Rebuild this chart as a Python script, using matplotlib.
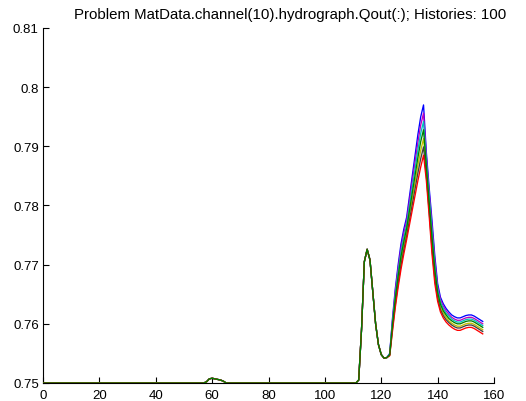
import numpy as np
import matplotlib
matplotlib.use('Agg')
import matplotlib.pyplot as plt

plt.rcParams['font.family'] = ['Liberation Sans', 'DejaVu Sans']

TITLE = 'Problem MatData.channel(10).hydrograph.Qout(:); Histories: 100'

# time steps
t_shared = np.arange(0, 123)
t_split = np.arange(123, 157)

# part of the hydrograph that is the same for every history (t = 0..122)
q_shared = ([0.75] * 58
            + [0.7502, 0.7507, 0.7508, 0.7507, 0.7506, 0.7505, 0.7503, 0.7500]
            + [0.75] * 46
            + [0.7505, 0.7590, 0.7705, 0.7726, 0.7708, 0.7655, 0.7600,
               0.7565, 0.7548, 0.7542, 0.7543])

# histories diverge after t = 123 (top of the band to bottom)
q_blue = [0.7550, 0.7610, 0.7660, 0.7700, 0.7735, 0.7760, 0.7780, 0.7815, 0.7850,
          0.7885, 0.7920, 0.7950, 0.7970, 0.7890, 0.7830, 0.7775, 0.7715, 0.7668,
          0.7645, 0.7634, 0.7626, 0.7620, 0.7615, 0.7612, 0.7610, 0.7610, 0.7612,
          0.7614, 0.7615, 0.7615, 0.7613, 0.7610, 0.7607, 0.7604]
q_magenta = [0.7549, 0.7606, 0.7655, 0.7694, 0.7728, 0.7753, 0.7774, 0.7807, 0.7840,
             0.7874, 0.7907, 0.7936, 0.7956, 0.7882, 0.7822, 0.7765, 0.7707, 0.7663,
             0.7641, 0.7630, 0.7622, 0.7616, 0.7611, 0.7608, 0.7606, 0.7606, 0.7608,
             0.7610, 0.7611, 0.7611, 0.7609, 0.7606, 0.7603, 0.7600]
q_cyan = [0.7549, 0.7603, 0.7649, 0.7687, 0.7721, 0.7746, 0.7767, 0.7799, 0.7831,
          0.7862, 0.7894, 0.7922, 0.7942, 0.7874, 0.7814, 0.7756, 0.7699, 0.7658,
          0.7637, 0.7626, 0.7618, 0.7613, 0.7608, 0.7605, 0.7603, 0.7603, 0.7605,
          0.7607, 0.7608, 0.7608, 0.7606, 0.7603, 0.7600, 0.7597]
q_yellow = [0.7547, 0.7595, 0.7639, 0.7675, 0.7706, 0.7732, 0.7755, 0.7783, 0.7811,
            0.7840, 0.7868, 0.7893, 0.7913, 0.7858, 0.7798, 0.7737, 0.7684, 0.7648,
            0.7628, 0.7618, 0.7611, 0.7605, 0.7601, 0.7598, 0.7596, 0.7596, 0.7598,
            0.7600, 0.7601, 0.7601, 0.7599, 0.7596, 0.7593, 0.7590]
q_gray = [0.7547, 0.7592, 0.7633, 0.7668, 0.7699, 0.7725, 0.7748, 0.7775, 0.7802,
          0.7828, 0.7855, 0.7879, 0.7899, 0.7850, 0.7790, 0.7727, 0.7676, 0.7643,
          0.7624, 0.7614, 0.7607, 0.7602, 0.7598, 0.7595, 0.7593, 0.7593, 0.7595,
          0.7597, 0.7598, 0.7598, 0.7596, 0.7593, 0.7590, 0.7587]
q_red = [0.7546, 0.7588, 0.7628, 0.7662, 0.7692, 0.7718, 0.7742, 0.7767, 0.7792,
         0.7817, 0.7842, 0.7865, 0.7885, 0.7842, 0.7782, 0.7718, 0.7668, 0.7638,
         0.7620, 0.7610, 0.7603, 0.7598, 0.7594, 0.7591, 0.7589, 0.7589, 0.7591,
         0.7593, 0.7594, 0.7594, 0.7592, 0.7589, 0.7586, 0.7583]
q_green = [0.7548, 0.7599, 0.7644, 0.7681, 0.7714, 0.7739, 0.7761, 0.7791, 0.7821,
           0.7851, 0.7881, 0.7908, 0.7928, 0.7866, 0.7806, 0.7747, 0.7692, 0.7653,
           0.7633, 0.7622, 0.7615, 0.7609, 0.7605, 0.7602, 0.7600, 0.7600, 0.7602,
           0.7604, 0.7605, 0.7605, 0.7603, 0.7600, 0.7597, 0.7594]

# matlab default line colours, green drawn last so it sits on top
histories = [
    (q_blue, (0, 0, 1)),
    (q_magenta, (0.75, 0, 0.75)),
    (q_cyan, (0, 0.75, 0.75)),
    (q_yellow, (0.75, 0.75, 0)),
    (q_gray, (0.25, 0.25, 0.25)),
    (q_red, (1, 0, 0)),
    (q_green, (0, 0.5, 0)),
]

fig = plt.figure(figsize=(5.26, 4.02), dpi=100)
ax = fig.add_axes([43 / 526, 1 - 384 / 402, 451 / 526, 355 / 402])

t_all = np.concatenate([t_shared, t_split])
for q, col in histories:
    ax.plot(t_all, q_shared + q, color=col, lw=0.95, zorder=3)

ax.set_xlim(0, 160)
ax.set_ylim(0.75, 0.81)
ax.set_xticks(np.arange(0, 161, 20))
ax.set_yticks([0.75, 0.76, 0.77, 0.78, 0.79, 0.80, 0.81])
ax.set_yticklabels(['0.75', '0.76', '0.77', '0.78', '0.79', '0.8', '0.81'])
ax.spines['top'].set_visible(False)
ax.spines['right'].set_visible(False)
ax.spines['left'].set_linewidth(0.8)
ax.spines['bottom'].set_linewidth(0.8)
ax.tick_params(direction='in', length=4, width=0.8, labelsize=9.5)
ax.tick_params(axis='x', pad=4)
ax.tick_params(axis='y', pad=3)
ax.patch.set_alpha(0)

fig.text(290 / 526, 1 - 15 / 402, TITLE, ha='center', va='center', fontsize=10.8)

fig.savefig('out.png', dpi=100)
